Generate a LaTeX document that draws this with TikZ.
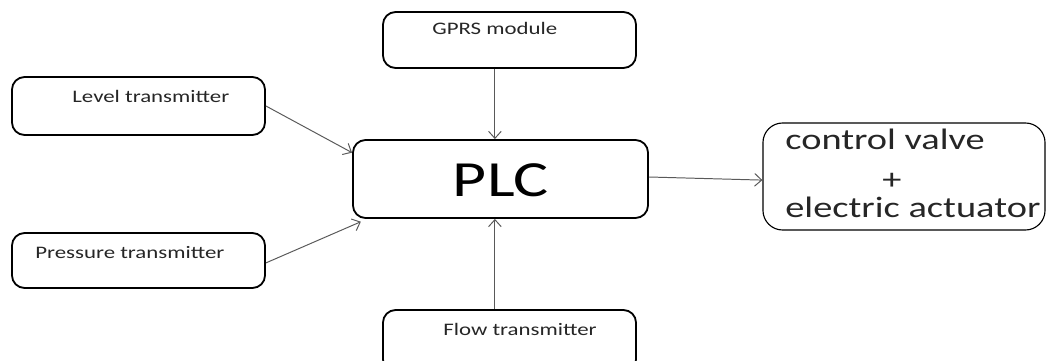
\documentclass[tikz,border=0pt]{standalone}
\usepackage{fontspec}
\setmainfont{Carlito}
\usepackage{xcolor}
\usepackage{tikz}
\usetikzlibrary{arrows.meta,positioning,calc}

\tikzset{
  box/.style={draw=black,line width=1.3pt,rounded corners=9pt,inner sep=0pt},
  valvebox/.style={draw=black,line width=0.8pt,rounded corners=14pt,inner sep=0pt},
  wide/.style={xscale=1.3,transform shape},
  lbl/.style={wide,anchor=base west,inner sep=0pt,text=black!85,font=\fontsize{12.5}{15}\selectfont},
  biglbl/.style={wide,anchor=base west,inner sep=0pt,text=black!85,font=\fontsize{21}{25}\selectfont},
  link/.style={draw=black!65,line width=0.7pt,-{Straight Barb[length=5pt,width=9pt]}}
}

\begin{document}
\begin{tikzpicture}[x=0.025cm,y=-0.025cm]%
    \useasboundingbox (0,0) rectangle (1048,361);
    % boxes
    \node[box,minimum width=6.325cm,minimum height=1.4cm] (gprs) at (509.5,40) {};
    \node[box,minimum width=6.325cm,minimum height=1.45cm] (level) at (138.5,106) {};
    \node[box,minimum width=6.325cm,minimum height=1.375cm] (pressure) at (138.5,260.5) {};
    \node[box,minimum width=7.375cm,minimum height=1.95cm] (plc) at (500.5,179) {};
    \node[valvebox,minimum width=7.05cm,minimum height=2.675cm] (valve) at (904,176.5) {};
    \node[box,minimum width=6.325cm,minimum height=1.55cm] (flow) at (509.5,341) {};
    % texts
    \node[lbl] (gprstxt) at (432,35) {GPRS module};
    \node[lbl] (leveltxt) at (72,103) {Level transmitter};
    \node[lbl] (pressuretxt) at (35,258) {Pressure transmitter};
    \node[lbl] (flowtxt) at (443,335) {Flow transmitter};
    \node[wide,anchor=base,inner sep=0pt,font=\fontsize{36}{42}\selectfont] (plctxt) at (501,196) {PLC};
    \node[biglbl] (valvetxt) at (785,150) {control valve};
    \node[wide,inner sep=0pt,text=black!85,font=\fontsize{21}{25}\selectfont] (plus) at (892,181) {+};
    \node[biglbl] (actuatortxt) at (785,218) {electric actuator};
    % connectors
    \draw[link] ([xshift=-0.14cm]plc.north |- gprs.south) -- ([xshift=-0.14cm]plc.north);
    \draw[link] ([xshift=-0.14cm]plc.south |- flow.north) -- ([xshift=-0.14cm]plc.south);
    \draw[link] (level.east) -- ($(plc.north west)!0.17!(plc.south west)$);
    \draw[link] ([yshift=-0.06cm]pressure.east) -- ([xshift=0.22cm,yshift=-0.07cm]plc.south west);
    \draw[link] ([yshift=0.05cm]plc.east) -- ([yshift=-0.09cm]valve.west);
  \end{tikzpicture}
\end{document}
